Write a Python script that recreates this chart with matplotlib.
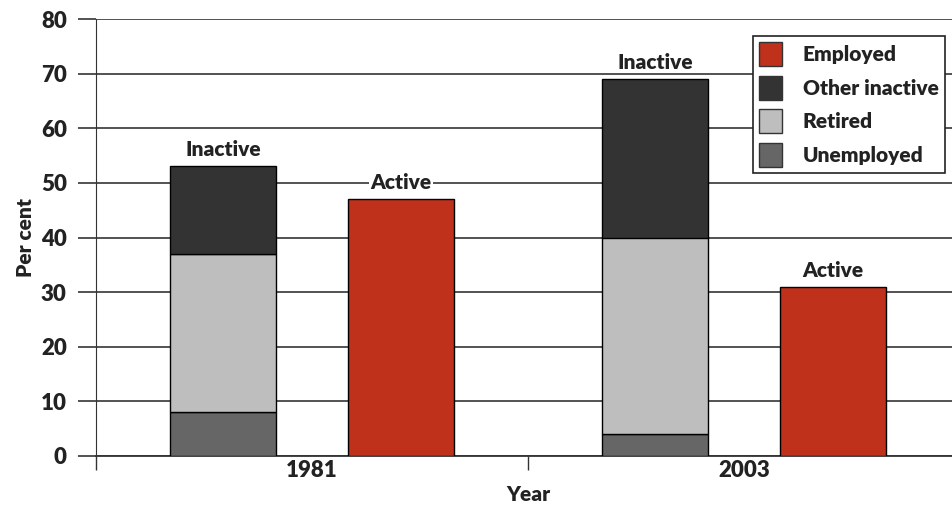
import matplotlib
matplotlib.use("Agg")
import matplotlib.pyplot as plt
import numpy as np
from matplotlib.patches import Patch

plt.rcParams['font.family'] = ['Lato', 'DejaVu Sans']
plt.rcParams['font.weight'] = 'heavy'

# data (per cent)
years = ["1981", "2003"]
unemployed = [8, 4]
retired = [29, 36]
other_inactive = [16, 29]
employed = [47, 31]

c_emp = "#c0311c"
c_other = "#333333"
c_ret = "#bebebe"
c_unemp = "#666666"
txt = "#222222"

fig = plt.figure(figsize=(9.53, 5.09), dpi=100)
ax = fig.add_axes([96 / 953, 53 / 509, 864 / 953, 437 / 509])

x = np.arange(len(years))
off = 0.206
w = 0.245
xi = x - off
xa = x + off

un = np.array(unemployed)
re = np.array(retired)
ot = np.array(other_inactive)

ax.bar(xi, un, w, color=c_unemp, edgecolor="black", lw=1, zorder=3)
ax.bar(xi, re, w, bottom=un, color=c_ret, edgecolor="black", lw=1, zorder=3)
ax.bar(xi, ot, w, bottom=un + re, color=c_other, edgecolor="black", lw=1, zorder=3)
ax.bar(xa, employed, w, color=c_emp, edgecolor="black", lw=1, zorder=3)

# group labels above bars
for i in range(len(years)):
    top = un[i] + re[i] + ot[i]
    ax.text(xi[i], top + 1.3, "Inactive", ha="center", va="bottom", fontsize=15,
            fontweight="heavy", color=txt, zorder=4,
            bbox=dict(facecolor="white", edgecolor="none", pad=1))
    ax.text(xa[i], employed[i] + 1.3, "Active", ha="center", va="bottom", fontsize=15,
            fontweight="heavy", color=txt, zorder=4,
            bbox=dict(facecolor="white", edgecolor="none", pad=1))

ax.set_xlim(-0.5, 1.5)
ax.set_ylim(0, 80)
ax.set_yticks(np.arange(0, 81, 10))
ax.yaxis.grid(True, color="#444444", lw=1.3, zorder=0)
ax.set_xticks([-0.5, 0.5, 1.5])
ax.set_xticklabels([])
ax.set_xticks(x, minor=True)
ax.set_xticklabels(years, minor=True)
ax.tick_params(axis="x", which="minor", length=0, pad=3, labelsize=16)
ax.tick_params(axis="x", which="major", length=10, width=1, color="#333333")
ax.tick_params(axis="y", length=13, width=1.3, color="#444444", labelsize=16, pad=8)
for lab in ax.get_yticklabels() + ax.get_xticklabels(minor=True):
    lab.set_fontweight("heavy")
    lab.set_color(txt)

for s in ["top", "right"]:
    ax.spines[s].set_visible(False)
ax.spines["left"].set_color("#333333")
ax.spines["bottom"].set_color("#333333")
ax.spines["bottom"].set_linewidth(1.3)

ax.set_xlabel("Year", fontsize=15, fontweight="heavy", color=txt, labelpad=3)
ax.set_ylabel("Per cent", fontsize=15, fontweight="heavy", color=txt, labelpad=4)

handles = [Patch(facecolor=c_emp, edgecolor="#333333", label="Employed"),
           Patch(facecolor=c_other, edgecolor="#333333", label="Other inactive"),
           Patch(facecolor=c_ret, edgecolor="#333333", label="Retired"),
           Patch(facecolor=c_unemp, edgecolor="#333333", label="Unemployed")]
leg = ax.legend(handles=handles, loc="upper left", bbox_to_anchor=((753 - 96) / 864, (456 - 36) / 437),
                bbox_transform=ax.transAxes, fancybox=False, framealpha=1,
                edgecolor="#222222", fontsize=15, handlelength=1.1, handleheight=1.4,
                handletextpad=1.0, labelspacing=0.45, borderpad=0.3, borderaxespad=0)
leg.get_frame().set_linewidth(1.2)
leg.set_zorder(5)
for t in leg.get_texts():
    t.set_fontweight("heavy")
    t.set_color(txt)

fig.savefig("out.png", dpi=100)
